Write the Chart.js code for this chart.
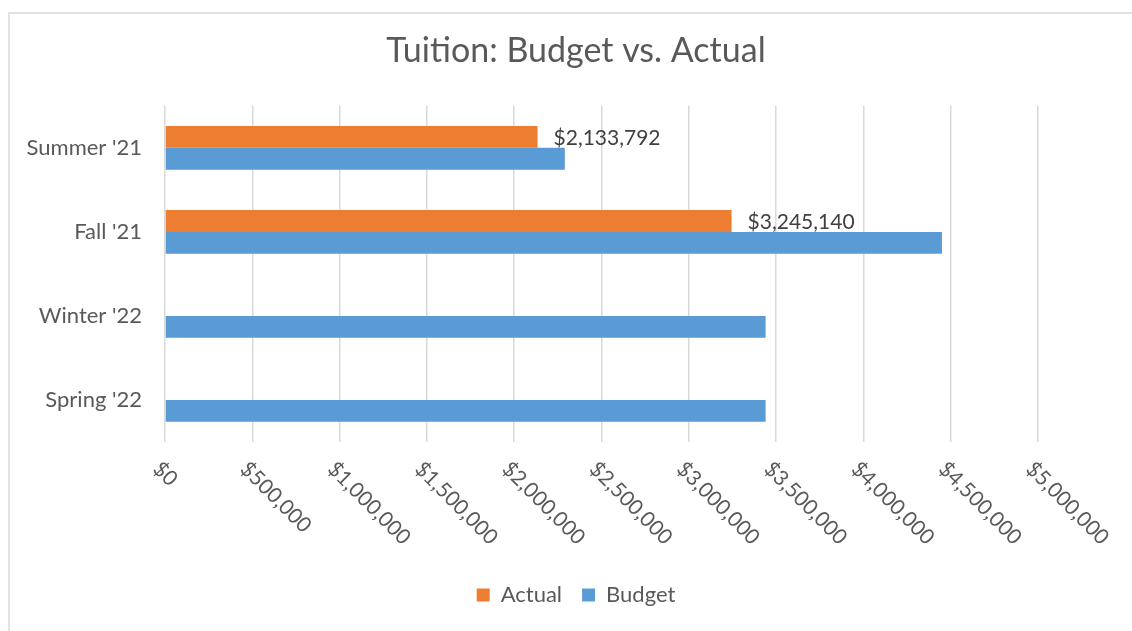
<!DOCTYPE html>
<html>
<head>
<meta charset="utf-8">
<script src="https://cdn.jsdelivr.net/npm/chart.js@4"></script>
<style>
  html, body { margin: 0; padding: 0; background: #fff; }
  #wrap { position: absolute; left: 0; top: 0; width: 1132px; height: 631px; }
</style>
</head>
<body>
<div id="wrap"><canvas id="myChart" width="1132" height="631"></canvas></div>
<script>
const terms = ["Summer '21", "Fall '21", "Winter '22", "Spring '22"];
const actual = [2133792, 3245140, null, null];
const budget = [2290000, 4450000, 3440000, 3440000];
const xTicks = [0, 500000, 1000000, 1500000, 2000000, 2500000, 3000000, 3500000, 4000000, 4500000, 5000000];

const FONT = 'Lato, "Open Sans", sans-serif';
const money = v => '$' + Math.round(v).toLocaleString('en-US');

// light frame round the chart, like the spreadsheet chart box
const frame = {
    id: 'frame',
    beforeDraw(chart) {
        const c = chart.ctx;
        c.save();
        c.strokeStyle = '#d9d9d9';
        c.lineWidth = 1.5;
        c.beginPath();
        c.moveTo(9, 631);
        c.lineTo(9, 13);
        c.lineTo(1132, 13);
        c.stroke();
        c.restore();
    }
};

// x tick labels, turned 45 degrees clockwise
const slantTicks = {
    id: 'slantTicks',
    afterDraw(chart) {
        const c = chart.ctx;
        const sx = chart.scales.x;
        c.save();
        c.fillStyle = '#595959';
        c.font = '21px ' + FONT;
        c.textAlign = 'left';
        c.textBaseline = 'top';
        xTicks.forEach(v => {
            const px = sx.getPixelForValue(v);
            c.save();
            c.translate(px - 1, chart.chartArea.bottom + 16);
            c.rotate(Math.PI / 4);
            c.fillText(money(v), 0, 0);
            c.restore();
        });
        c.restore();
    }
};

// value labels next to the Actual bars
const barLabels = {
    id: 'barLabels',
    afterDatasetsDraw(chart) {
        const c = chart.ctx;
        const meta = chart.getDatasetMeta(0);
        c.save();
        c.fillStyle = '#404040';
        c.font = '21px ' + FONT;
        c.textAlign = 'left';
        c.textBaseline = 'middle';
        meta.data.forEach((bar, i) => {
            if (actual[i] == null) return;
            c.fillText(money(actual[i]), bar.x + 16, bar.y + 1);
        });
        c.restore();
    }
};

const ctx = document.getElementById('myChart');

new Chart(ctx, {
    type: 'bar',
    data: {
        labels: terms,
        datasets: [{
            label: 'Actual',
            data: actual,
            backgroundColor: '#ED7D31',
            borderWidth: 0
        }, {
            label: 'Budget',
            data: budget,
            backgroundColor: '#5B9BD5',
            borderWidth: 0
        }]
    },
    options: {
        indexAxis: 'y',
        responsive: false,
        animation: false,
        devicePixelRatio: 1,
        categoryPercentage: 0.52,
        barPercentage: 1,
        layout: {
            padding: { left: 20, right: 0, top: 0, bottom: 15 }
        },
        scales: {
            x: {
                min: 0,
                max: 5000000,
                ticks: { display: false, stepSize: 500000 },
                grid: { color: '#d9d9d9', lineWidth: 1.5, drawTicks: false },
                border: { display: false },
                afterFit: s => { s.height = 122; }
            },
            y: {
                grid: { display: false, drawTicks: false },
                border: { display: false },
                ticks: {
                    color: '#595959',
                    font: { family: FONT, size: 22 },
                    padding: 23
                },
                afterFit: s => { s.width = 145; }
            },
            // empty right-hand axis that only keeps room on the right
            yRight: {
                type: 'category',
                position: 'right',
                display: true,
                grid: { display: false, drawTicks: false },
                border: { display: false },
                ticks: { display: false },
                afterFit: s => { s.width = 94; }
            }
        },
        plugins: {
            title: {
                display: true,
                text: 'Tuition: Budget vs. Actual',
                color: '#595959',
                font: { family: FONT, size: 34, weight: 'normal' },
                padding: { top: 31, bottom: 34 }
            },
            legend: {
                position: 'bottom',
                labels: {
                    color: '#595959',
                    font: { family: FONT, size: 22 },
                    boxWidth: 13,
                    boxHeight: 13,
                    padding: 20
                }
            },
            tooltip: { enabled: false }
        }
    },
    plugins: [frame, slantTicks, barLabels]
});
</script>
</body>
</html>
